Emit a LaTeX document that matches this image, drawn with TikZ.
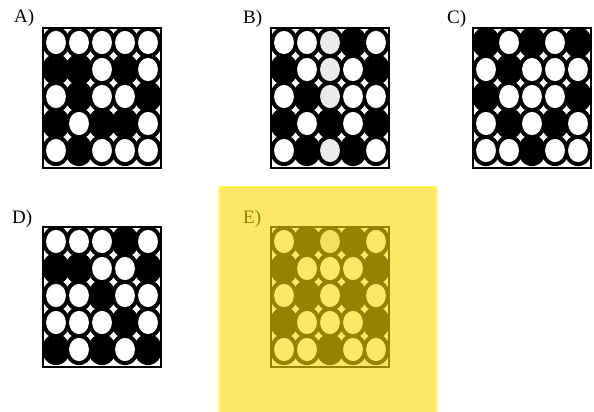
\documentclass[tikz,border=0pt]{standalone}
\usepackage{fontspec}
\setmainfont{Liberation Serif}
\usepackage{tikz}
\definecolor{hlgold}{RGB}{255,215,0}
\colorlet{wh}{white}
\colorlet{bk}{black}
\colorlet{gy}{black!8}
\newcommand{\ballgrid}[3]{%
  % #1 = x left, #2 = y top, #3 = 25 fill colours, row by row
  \begin{scope}
    \clip (#1,#2) rectangle ++(118,140);
    \foreach \fillc [count=\k from 0] in {#3} {
      \pgfmathtruncatemacro{\col}{mod(\k,5)}
      \pgfmathtruncatemacro{\row}{\k/5}
      \fill[black] (#1+13+23*\col, #2+14.5+27*\row) ellipse [x radius=14, y radius=15.6];
    }
    \foreach \fillc [count=\k from 0] in {#3} {
      \pgfmathtruncatemacro{\col}{mod(\k,5)}
      \pgfmathtruncatemacro{\row}{\k/5}
      \fill[\fillc] (#1+13+23*\col, #2+14.5+27*\row) ellipse [x radius=9.9, y radius=11.6];
    }
  \end{scope}
  \draw[line width=2.5pt] (#1,#2) rectangle ++(118,140);
}

\begin{document}
\begin{tikzpicture}[x=1pt, y=-1pt, lbl/.style={anchor=base west, inner sep=0pt, font=\fontsize{19}{19}\selectfont}]
    \useasboundingbox (0,0) rectangle (594,412);

    \node[lbl] (lblA) at (14,23) {A)};
    \ballgrid{43}{28}{wh,wh,wh,wh,wh, bk,bk,wh,bk,wh, wh,bk,wh,wh,bk, bk,wh,bk,bk,wh, wh,bk,wh,wh,wh}

    \node[lbl] (lblB) at (243,24) {B)};
    \ballgrid{271}{28}{wh,wh,gy,bk,wh, bk,wh,gy,wh,bk, wh,bk,gy,wh,wh, bk,wh,bk,wh,bk, wh,bk,gy,bk,wh}

    \node[lbl] (lblC) at (447,24) {C)};
    \ballgrid{473}{28}{bk,wh,bk,wh,bk, wh,bk,wh,wh,wh, bk,wh,wh,wh,bk, wh,bk,wh,bk,wh, wh,wh,bk,wh,wh}

    \node[lbl] (lblD) at (12,223) {D)};
    \ballgrid{43}{227}{wh,wh,wh,bk,wh, bk,bk,wh,wh,bk, wh,wh,bk,wh,wh, wh,wh,wh,bk,wh, bk,wh,bk,wh,bk}

    \node[lbl] (lblE) at (243,223) {E)};
    \ballgrid{271}{227}{wh,bk,gy,bk,wh, bk,wh,wh,wh,bk, wh,bk,wh,bk,wh, bk,wh,wh,wh,bk, wh,wh,bk,wh,wh}

    % highlight over answer E
    \fill[hlgold, opacity=0.6] (220,187) rectangle (436,412);
    \draw[yellow, opacity=0.6, line width=1.5pt] (220,412) -- (220,187) -- (436,187) -- (436,412);

\end{tikzpicture}
\end{document}
